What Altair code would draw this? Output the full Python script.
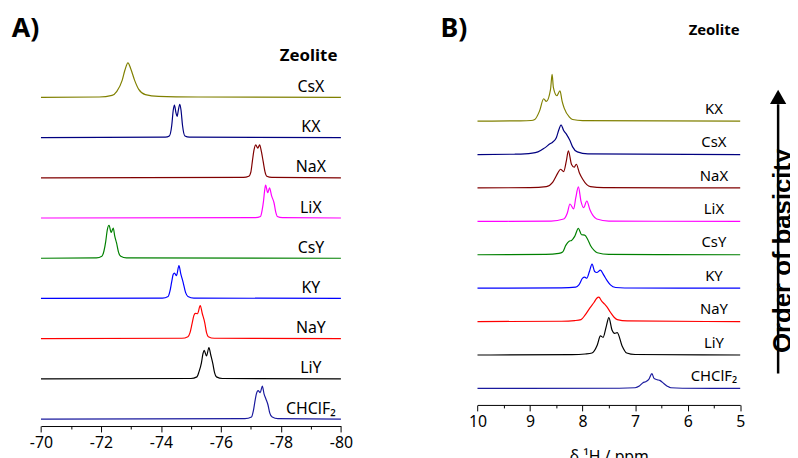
import altair as alt
import pandas as pd

# ---------------- Panel A (chemical shift, ppm) ----------------
# rows from bottom (0) to top (8)
a_names = ["CHClF₂", "LiY", "NaY", "KY", "CsY", "LiX", "NaX", "KX", "CsX"]

A_CHClF2_ppm = [-70, -76.80, -77.02, -77.08, -77.13, -77.18, -77.24, -77.31, -77.38, -77.44, -77.50, -77.57, -77.63, -77.71, -77.90, -80]
A_CHClF2_int = [0, 0.01, 0.05, 0.2, 0.42, 0.62, 0.71, 0.66, 0.82, 0.62, 0.5, 0.35, 0.15, 0.05, 0.01, 0]
A_LiY_ppm = [-70, -75.00, -75.20, -75.27, -75.35, -75.40, -75.44, -75.52, -75.60, -75.66, -75.73, -75.79, -75.85, -76.05, -80]
A_LiY_int = [0, 0.01, 0.05, 0.18, 0.4, 0.62, 0.71, 0.57, 0.78, 0.6, 0.38, 0.15, 0.05, 0.01, 0]
A_NaY_ppm = [-70, -74.70, -74.90, -74.97, -75.04, -75.10, -75.15, -75.22, -75.31, -75.38, -75.46, -75.52, -75.58, -75.78, -80]
A_NaY_int = [0, 0.01, 0.05, 0.15, 0.38, 0.58, 0.63, 0.62, 0.82, 0.62, 0.4, 0.15, 0.05, 0.01, 0]
A_KY_ppm = [-70, -74.05, -74.24, -74.30, -74.36, -74.41, -74.45, -74.52, -74.60, -74.66, -74.74, -74.82, -74.90, -75.10, -80]
A_KY_int = [0, 0.01, 0.05, 0.18, 0.42, 0.6, 0.63, 0.57, 0.82, 0.62, 0.4, 0.15, 0.05, 0.01, 0]
A_CsY_ppm = [-70, -71.85, -72.03, -72.10, -72.16, -72.21, -72.27, -72.34, -72.41, -72.46, -72.52, -72.59, -72.66, -72.85, -80]
A_CsY_int = [0, 0.01, 0.05, 0.18, 0.42, 0.7, 0.82, 0.64, 0.75, 0.55, 0.38, 0.14, 0.05, 0.01, 0]
A_LiX_ppm = [-70, -77.15, -77.32, -77.37, -77.42, -77.46, -77.49, -77.56, -77.62, -77.69, -77.77, -77.83, -77.88, -78.05, -80]
A_LiX_int = [0, 0.01, 0.04, 0.18, 0.42, 0.7, 0.82, 0.63, 0.75, 0.55, 0.38, 0.14, 0.04, 0.01, 0]
A_NaX_ppm = [-70, -76.75, -76.93, -77.00, -77.05, -77.10, -77.16, -77.23, -77.29, -77.35, -77.41, -77.47, -77.53, -77.70, -80]
A_NaX_int = [0, 0.01, 0.04, 0.15, 0.42, 0.68, 0.82, 0.74, 0.82, 0.65, 0.4, 0.15, 0.04, 0.01, 0]
A_KX_ppm = [-70, -74.15, -74.28, -74.36, -74.41, -74.45, -74.50, -74.54, -74.58, -74.63, -74.67, -74.72, -74.80, -74.95, -80]
A_KX_int = [0, 0.01, 0.04, 0.3, 0.68, 0.81, 0.62, 0.53, 0.68, 0.83, 0.68, 0.3, 0.04, 0.01, 0]
A_CsX_ppm = [-70, -71.94, -72.37, -72.53, -72.71, -72.80, -72.90, -72.99, -73.12, -73.26, -73.48, -73.92, -75.24, -80]
A_CsX_int = [0, 0.01, 0.05, 0.15, 0.43, 0.68, 0.86, 0.72, 0.43, 0.2, 0.07, 0.025, 0.01, 0]

# ---------------- Panel B (delta 1H, ppm) ----------------
b_names = ["CHClF₂", "LiY", "NaY", "KY", "CsY", "LiX", "NaX", "CsX", "KX"]

B_CHClF2_ppm = [10, 7.3, 7.0, 6.92, 6.85, 6.80, 6.74, 6.68, 6.64, 6.58, 6.53, 6.45, 6.38, 6.32, 6.1, 5]
B_CHClF2_int = [0, 0.005, 0.02, 0.07, 0.17, 0.2, 0.27, 0.44, 0.3, 0.26, 0.24, 0.14, 0.06, 0.02, 0.005, 0]
B_LiY_ppm = [10, 8.2, 7.95, 7.82, 7.72, 7.66, 7.61, 7.55, 7.50, 7.44, 7.39, 7.34, 7.25, 7.16, 7.0, 5]
B_LiY_int = [0, 0.01, 0.03, 0.06, 0.3, 0.57, 0.53, 0.85, 1.12, 0.75, 0.65, 0.67, 0.28, 0.06, 0.015, 0]
B_NaY_ppm = [10, 8.4, 8.15, 8.03, 7.95, 7.86, 7.78, 7.73, 7.69, 7.64, 7.58, 7.54, 7.47, 7.40, 7.34, 7.15, 5]
B_NaY_int = [0, 0.01, 0.03, 0.06, 0.2, 0.41, 0.58, 0.7, 0.73, 0.62, 0.52, 0.45, 0.28, 0.13, 0.06, 0.02, 0]
B_KY_ppm = [10, 8.4, 8.13, 8.07, 8.00, 7.96, 7.92, 7.87, 7.82, 7.77, 7.73, 7.66, 7.60, 7.53, 7.47, 7.37, 7.2, 5]
B_KY_int = [0, 0.01, 0.03, 0.1, 0.3, 0.33, 0.3, 0.5, 0.72, 0.5, 0.47, 0.54, 0.4, 0.22, 0.1, 0.02, 0.005, 0]
B_CsY_ppm = [10, 8.7, 8.45, 8.38, 8.32, 8.25, 8.21, 8.15, 8.08, 8.02, 7.96, 7.90, 7.85, 7.78, 7.72, 7.5, 5]
B_CsY_int = [0, 0.01, 0.04, 0.08, 0.28, 0.41, 0.43, 0.55, 0.79, 0.6, 0.59, 0.45, 0.28, 0.13, 0.06, 0.01, 0]
B_LiX_ppm = [10, 8.6, 8.36, 8.29, 8.24, 8.17, 8.13, 8.08, 8.03, 7.98, 7.92, 7.86, 7.80, 7.73, 7.5, 5]
B_LiX_int = [0, 0.01, 0.07, 0.25, 0.52, 0.37, 0.7, 1.03, 0.6, 0.41, 0.61, 0.35, 0.17, 0.07, 0.01, 0]
B_NaX_ppm = [10, 9.0, 8.69, 8.57, 8.47, 8.42, 8.36, 8.31, 8.27, 8.21, 8.16, 8.12, 8.06, 8.00, 7.92, 7.85, 7.6, 5]
B_NaX_int = [0, 0.01, 0.04, 0.17, 0.45, 0.56, 0.49, 0.8, 1.11, 0.7, 0.62, 0.71, 0.45, 0.27, 0.1, 0.04, 0.01, 0]
B_CsX_ppm = [10, 9.3, 9.1, 8.85, 8.72, 8.62, 8.57, 8.50, 8.45, 8.41, 8.36, 8.30, 8.24, 8.19, 8.10, 7.90, 5]
B_CsX_int = [0, 0.01, 0.02, 0.08, 0.2, 0.32, 0.37, 0.5, 0.75, 0.89, 0.72, 0.59, 0.42, 0.23, 0.08, 0.02, 0]
B_KX_ppm = [10, 9.2, 8.98, 8.91, 8.82, 8.74, 8.69, 8.61, 8.58, 8.555, 8.49, 8.43, 8.39, 8.35, 8.25, 8.19, 8.0, 5]
B_KX_int = [0, 0.01, 0.02, 0.05, 0.3, 0.67, 0.59, 0.95, 1.40, 1.0, 0.76, 0.91, 0.6, 0.39, 0.12, 0.05, 0.015, 0]

a_series = [(A_CHClF2_ppm, A_CHClF2_int), (A_LiY_ppm, A_LiY_int), (A_NaY_ppm, A_NaY_int),
            (A_KY_ppm, A_KY_int), (A_CsY_ppm, A_CsY_int), (A_LiX_ppm, A_LiX_int),
            (A_NaX_ppm, A_NaX_int), (A_KX_ppm, A_KX_int), (A_CsX_ppm, A_CsX_int)]
b_series = [(B_CHClF2_ppm, B_CHClF2_int), (B_LiY_ppm, B_LiY_int), (B_NaY_ppm, B_NaY_int),
            (B_KY_ppm, B_KY_int), (B_CsY_ppm, B_CsY_int), (B_LiX_ppm, B_LiX_int),
            (B_NaX_ppm, B_NaX_int), (B_CsX_ppm, B_CsX_int), (B_KX_ppm, B_KX_int)]

a_ticks = list(range(-70, -81, -1))
b_ticks = [10, 9.5, 9, 8.5, 8, 7.5, 7, 6.5, 6, 5.5, 5]

# ---------------- styles ----------------
row_colors = ["#1a1a9e", "#000000", "#ff0000", "#0000ff", "#008000",
              "#ff00ff", "#800000", "#000080", "#808000"]
FONT = "Noto Sans"


def long_df(series):
    recs = []
    for r, (pp, ii) in enumerate(series):
        for p, v in zip(pp, ii):
            recs.append({"row": r, "ppm": p, "inten": v})
    return pd.DataFrame(recs)


dfA = long_df(a_series)
dfB = long_df(b_series)
labA = pd.DataFrame({"row": list(range(9)), "name": a_names})
labB = pd.DataFrame({"row": list(range(9)), "name": b_names})

colscale = alt.Scale(domain=list(range(9)), range=row_colors)

xA = alt.Scale(domain=[-70, -80], range=[33.3, 336.3], nice=False, zero=False)
yA = alt.Scale(domain=[0, 8], range=[413, 88], nice=False, zero=False)
xB = alt.Scale(domain=[10, 5], range=[474.3, 739.7], nice=False, zero=False)
yB = alt.Scale(domain=[0, 8], range=[382, 112], nice=False, zero=False)

axA = alt.Axis(orient="bottom", values=a_ticks, title=None, grid=False,
               labelExpr="datum.value % 2 === 0 ? '' + datum.value : ''",
               tickSize={"condition": {"test": "datum.value % 2 === 0", "value": 6}, "value": 3},
               domainColor="black", domainWidth=1, tickColor="black", tickWidth=1,
               labelColor="black", labelFont=FONT, labelFontSize=16, labelPadding=3,
               labelOverlap=False, labelFlush=False)
axB = alt.Axis(orient="bottom", values=b_ticks, title="δ ¹H / ppm", grid=False, offset=-21.3,
               labelExpr="datum.value % 1 === 0 ? '' + datum.value : ''",
               tickSize={"condition": {"test": "datum.value % 1 === 0", "value": 6}, "value": 3},
               domainColor="black", domainWidth=1, tickColor="black", tickWidth=1,
               labelColor="black", labelFont=FONT, labelFontSize=16, labelPadding=3,
               labelOverlap=False, labelFlush=False,
               titleFont=FONT, titleFontSize=16, titleFontWeight="normal", titleColor="black",
               titleBaseline="alphabetic", titleY=57)

lineA = alt.Chart(dfA).transform_calculate(yv="datum.row + datum.inten").mark_line(
    interpolate="monotone", strokeWidth=1.2).encode(
    x=alt.X("ppm:Q", scale=xA, axis=axA),
    y=alt.Y("yv:Q", scale=yA, axis=None),
    color=alt.Color("row:O", scale=colscale, legend=None),
)
textA = alt.Chart(labA).mark_text(font=FONT, fontSize=16, align="center", baseline="alphabetic",
                                  dy=-5.5, color="black").encode(
    x=alt.datum(-79.0), y=alt.Y("row:Q", scale=yA, axis=None), text="name:N")
panelA = alt.layer(lineA, textA)

lineB = alt.Chart(dfB).transform_calculate(yv="datum.row + datum.inten").mark_line(
    interpolate="monotone", strokeWidth=1.2).encode(
    x=alt.X("ppm:Q", scale=xB, axis=axB),
    y=alt.Y("yv:Q", scale=yB, axis=None),
    color=alt.Color("row:O", scale=colscale, legend=None),
)
textB = alt.Chart(labB).mark_text(font=FONT, fontSize=15, align="center", baseline="alphabetic",
                                  dy=-7.5, color="black").encode(
    x=alt.datum(5.5), y=alt.Y("row:Q", scale=yB, axis=None), text="name:N")
panelB = alt.layer(lineB, textB)

# ---------------- annotations ----------------
one = pd.DataFrame({"k": [0]})
tagA = alt.Chart(one).mark_text(text="A)", font=FONT, fontSize=27, fontWeight="bold", align="left",
                                baseline="alphabetic", color="black").encode(x=alt.value(3.7), y=alt.value(27))
tagB = alt.Chart(one).mark_text(text="B)", font=FONT, fontSize=27, fontWeight="bold", align="left",
                                baseline="alphabetic", color="black").encode(x=alt.value(437), y=alt.value(27))
zeoA = alt.Chart(one).mark_text(text="Zeolite", font=FONT, fontSize=17, fontWeight="bold", align="center",
                                baseline="alphabetic", color="black").encode(x=alt.value(303.7), y=alt.value(51.3))
zeoB = alt.Chart(one).mark_text(text="Zeolite", font=FONT, fontSize=15, fontWeight="bold", align="center",
                                baseline="alphabetic", color="black").encode(x=alt.value(713.3), y=alt.value(25.3))
arrow = alt.Chart(one).mark_rule(strokeWidth=2.5, color="black").encode(
    x=alt.value(778), y=alt.value(95), y2=alt.value(367))
head = alt.Chart(one).mark_point(shape="triangle-up", filled=True, size=270, color="black", opacity=1).encode(
    x=alt.value(778), y=alt.value(87.5))
basic = alt.Chart(one).mark_text(text="Order of basicity", font="Liberation Sans", fontSize=26, fontWeight="bold",
                                 angle=270, align="center", baseline="alphabetic", color="black").encode(
    x=alt.value(791), y=alt.value(243))

chart = alt.layer(panelA, panelB, tagA, tagB, zeoA, zeoB, arrow, head, basic).resolve_scale(
    x="independent", y="independent"
).properties(
    width=790, height=420,
    autosize=alt.AutoSizeParams(type="none"),
    padding={"left": 0, "top": 0, "right": 0, "bottom": 30},
).configure_view(stroke=None)

chart.save("out.html", embed_options={"renderer": "svg", "actions": False})
